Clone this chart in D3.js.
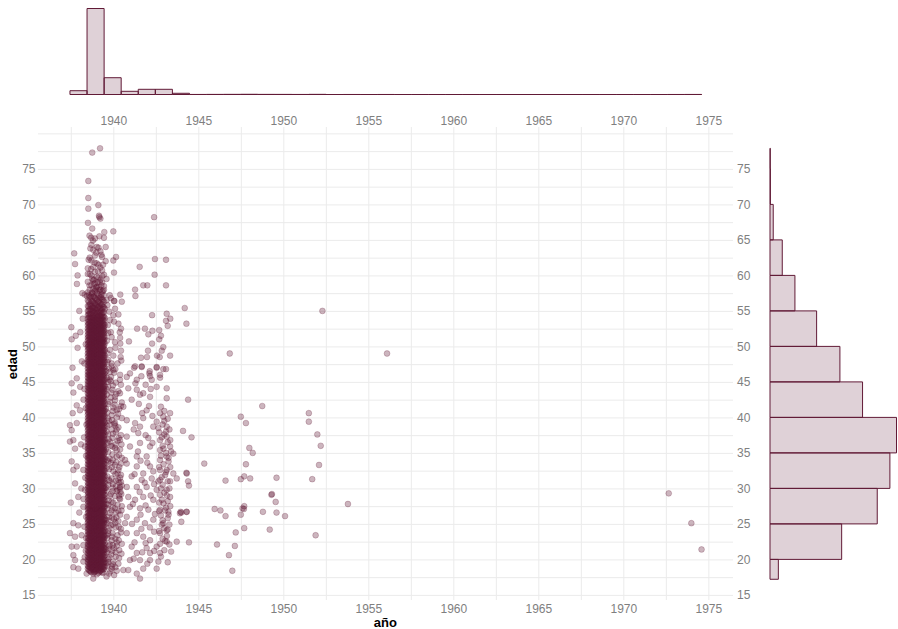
<!DOCTYPE html>
<html>
<head>
<meta charset="utf-8">
<script src="https://cdn.jsdelivr.net/npm/d3@7"></script>
<style>
  body { margin: 0; background: #fff; }
  svg text { font-family: "Liberation Sans", Arial, sans-serif; }
</style>
</head>
<body>
<svg id="chart" width="898" height="629"></svg>
<script>
// ---- datos ----
// núcleo denso (1938.5 - 1939.5): columnas de año y edades
const nucleoAnios = [1938.50, 1938.61, 1938.71, 1938.82, 1938.92, 1939.03, 1939.13, 1939.24, 1939.34, 1939.45,
                     1938.555, 1938.66, 1938.765, 1938.87, 1938.975, 1939.08, 1939.185, 1939.29, 1939.395, 1939.50];
const nucleoEdades = [
  [18.7,19.1,19.6,20.0,20.4,20.9,21.3,21.8,22.1,22.6,23.0,23.5,23.9,24.3,24.8,25.2,25.6,26.1,26.5,27.0,27.3,27.8,28.2,28.7,29.1,29.5,30.0,30.4,30.8,31.3,31.7,32.2,32.5,33.0,33.4,33.9,34.3,34.7,35.2,35.6,36.0,36.5,36.9,37.4,37.7,38.2,38.6,39.1,39.5,39.9,40.4,40.8,41.2,41.7,42.1,42.6,42.9,43.4,43.8,44.3,44.7,45.1,45.6,46.0,46.4,46.9,47.3,47.8,48.1,48.6,49.0,49.5,49.9,50.3,50.8,51.2,51.6,52.1,52.5,53.0,53.4,53.9,54.4,55.0,55.7,56.5,57.6,59.1,61.0],
  [18.4,18.9,19.3,19.8,20.2,20.6,21.1,21.5,22.0,22.4,22.8,23.3,23.7,24.1,24.6,25.0,25.5,25.9,26.3,26.8,27.2,27.6,28.1,28.5,29.0,29.3,29.8,30.2,30.7,31.1,31.5,32.0,32.4,32.8,33.3,33.7,34.2,34.5,35.0,35.4,35.9,36.3,36.7,37.2,37.6,38.0,38.5,38.9,39.3,39.8,40.2,40.7,41.0,41.5,41.9,42.4,42.8,43.2,43.7,44.1,44.5,45.0,45.4,45.9,46.2,46.7,47.1,47.6,48.0,48.4,48.9,49.3,49.7,50.2,50.6,51.1,51.4,51.9,52.3,52.8,53.2,53.6,54.1,54.6,55.2,55.9,56.8,58.0,60.2,62.5],
  [18.2,18.8,19.2,19.7,20.1,20.5,21.0,21.4,21.9,22.2,22.7,23.1,23.6,24.0,24.4,24.9,25.3,25.8,26.1,26.6,27.0,27.5,27.9,28.3,28.8,29.2,29.7,30.0,30.5,30.9,31.4,31.8,32.2,32.7,33.1,33.6,33.9,34.4,34.8,35.3,35.7,36.1,36.6,37.0,37.5,37.8,38.3,38.7,39.2,39.6,40.0,40.5,40.9,41.4,41.7,42.2,42.6,43.1,43.5,43.9,44.4,44.8,45.3,45.6,46.1,46.5,47.0,47.4,47.8,48.3,48.7,49.2,49.5,50.0,50.4,50.9,51.3,51.7,52.2,52.6,53.1,53.5,54.0,54.5,55.1,55.7,56.4,57.3,58.6,60.0,62.1,64.3],
  [18.0,18.5,19.0,19.4,19.9,20.3,20.7,21.2,21.6,22.1,22.5,22.9,23.4,23.8,24.2,24.7,25.1,25.6,26.0,26.4,26.9,27.3,27.8,28.1,28.6,29.0,29.5,29.9,30.3,30.8,31.2,31.6,32.1,32.5,33.0,33.4,33.8,34.3,34.7,35.1,35.6,36.0,36.5,36.9,37.3,37.8,38.2,38.6,39.1,39.5,40.0,40.4,40.8,41.3,41.7,42.1,42.6,43.0,43.5,43.9,44.3,44.8,45.2,45.6,46.1,46.5,47.0,47.4,47.8,48.3,48.7,49.1,49.6,50.0,50.5,50.9,51.3,51.8,52.2,52.6,53.1,53.5,54.0,54.4,55.0,55.5,56.2,57.0,58.1,59.3,61.2,63.6],
  [18.3,18.7,19.2,19.6,20.1,20.5,20.9,21.4,21.8,22.3,22.6,23.1,23.5,24.0,24.4,24.8,25.3,25.7,26.2,26.6,27.0,27.5,27.9,28.4,28.8,29.2,29.7,30.1,30.6,30.9,31.4,31.8,32.3,32.7,33.1,33.6,34.0,34.5,34.9,35.3,35.8,36.2,36.7,37.1,37.5,38.0,38.4,38.9,39.3,39.7,40.2,40.6,41.1,41.5,41.9,42.4,42.8,43.3,43.7,44.1,44.6,45.0,45.5,45.8,46.3,46.7,47.2,47.6,48.0,48.5,48.9,49.4,49.8,50.2,50.7,51.1,51.5,52.0,52.4,52.9,53.3,53.8,54.2,54.8,55.4,56.0,56.8,57.8,58.9,60.5,62.8,65.2],
  [17.9,18.6,19.1,19.5,19.9,20.4,20.8,21.3,21.7,22.2,22.6,23.0,23.5,23.9,24.3,24.8,25.2,25.7,26.1,26.5,27.0,27.4,27.9,28.3,28.7,29.2,29.6,30.0,30.5,30.9,31.3,31.8,32.2,32.7,33.0,33.5,33.9,34.4,34.8,35.2,35.7,36.1,36.6,37.0,37.4,37.9,38.3,38.8,39.2,39.6,40.1,40.5,40.9,41.4,41.8,42.3,42.7,43.2,43.6,44.0,44.5,44.9,45.3,45.8,46.2,46.6,47.1,47.5,48.0,48.4,48.8,49.3,49.7,50.1,50.6,51.0,51.5,51.9,52.3,52.8,53.2,53.7,54.1,54.6,55.2,55.8,56.6,57.5,58.4,59.8,61.7,64.0],
  [18.1,18.5,19.0,19.3,19.8,20.2,20.7,21.1,21.6,21.9,22.4,22.8,23.3,23.7,24.1,24.6,25.0,25.4,25.9,26.3,26.8,27.2,27.6,28.1,28.5,29.0,29.4,29.8,30.3,30.7,31.2,31.5,32.0,32.4,32.9,33.3,33.7,34.2,34.6,35.1,35.5,35.9,36.4,36.8,37.3,37.7,38.1,38.6,39.0,39.4,39.9,40.3,40.8,41.2,41.6,42.0,42.5,42.9,43.4,43.8,44.2,44.7,45.1,45.5,46.0,46.4,46.9,47.3,47.7,48.2,48.6,49.0,49.5,49.9,50.4,50.8,51.2,51.7,52.1,52.5,53.0,53.4,53.9,54.3,54.9,55.6,56.3,57.1,58.3,59.7,61.5,63.9],
  [18.4,18.9,19.4,19.8,20.2,20.7,21.1,21.5,22.0,22.4,22.9,23.3,23.7,24.2,24.6,25.1,25.4,25.9,26.3,26.8,27.2,27.7,28.0,28.5,28.9,29.4,29.8,30.2,30.7,31.1,31.6,32.0,32.4,32.9,33.3,33.7,34.1,34.6,35.0,35.5,35.9,36.3,36.8,37.2,37.6,38.1,38.5,39.0,39.4,39.8,40.3,40.7,41.1,41.6,42.0,42.5,42.8,43.3,43.7,44.2,44.6,45.0,45.5,45.9,46.3,46.8,47.2,47.7,48.1,48.5,49.0,49.4,49.8,50.3,50.7,51.2,51.6,52.0,52.5,52.9,53.3,53.8,54.3,54.8,55.4,56.1,56.9,58.0,59.4,61.1,63.4],
  [18.2,18.7,19.1,19.6,20.0,20.5,20.9,21.3,21.8,22.2,22.7,23.1,23.5,24.0,24.4,24.9,25.3,25.7,26.2,26.6,27.1,27.5,27.9,28.4,28.8,29.3,29.7,30.1,30.6,31.0,31.4,31.9,32.3,32.8,33.2,33.6,34.1,34.5,35.0,35.4,35.8,36.3,36.7,37.1,37.6,38.0,38.5,38.9,39.3,39.8,40.2,40.6,41.1,41.5,42.0,42.4,42.8,43.3,43.7,44.1,44.6,45.0,45.4,45.9,46.3,46.8,47.2,47.6,48.1,48.5,48.9,49.4,49.8,50.3,50.7,51.1,51.6,52.0,52.4,52.9,53.3,53.8,54.2,54.7,55.3,55.9,56.7,57.7,59.0,60.7,62.6],
  [18.6,19.0,19.5,20.0,20.4,20.8,21.3,21.7,22.1,22.6,23.0,23.4,23.9,24.3,24.8,25.2,25.6,26.1,26.5,26.9,27.4,27.8,28.3,28.7,29.1,29.6,30.0,30.4,30.9,31.3,31.8,32.2,32.6,33.1,33.5,33.9,34.4,34.8,35.3,35.7,36.1,36.6,37.0,37.4,37.9,38.3,38.8,39.2,39.6,40.1,40.5,40.9,41.4,41.8,42.3,42.7,43.1,43.6,44.0,44.4,44.9,45.3,45.8,46.2,46.6,47.1,47.5,48.0,48.4,48.8,49.3,49.7,50.1,50.6,51.0,51.4,51.9,52.3,52.8,53.2,53.7,54.2,54.8,55.5,56.3,57.2,58.5,60.1],
  [18.5,19.0,19.4,19.9,20.3,20.8,21.2,21.7,22.1,22.6,23.0,23.5,23.9,24.4,24.8,25.3,25.7,26.2,26.6,27.1,27.5,28.0,28.4,28.9,29.3,29.8,30.2,30.7,31.1,31.6,32.0,32.5,32.9,33.4,33.8,34.3,34.7,35.2,35.6,36.1,36.5,37.0,37.4,37.9,38.3,38.8,39.2,39.7,40.1,40.6,41.0,41.5,41.9,42.4,42.8,43.3,43.7,44.2,44.6,45.1,45.5,46.0,46.4,46.9,47.3,47.8,48.2,48.7,49.1,49.6,50.0,50.5,50.9,51.4,51.8,52.3,52.7,53.2,53.6,54.1,54.5,55.0,55.6,56.3,57.2],
  [18.3,18.8,19.3,19.6,20.1,20.6,20.9,21.4,21.9,22.3,22.7,23.2,23.6,24.1,24.5,25.0,25.3,25.8,26.3,26.7,27.1,27.6,28.0,28.4,28.9,29.4,29.7,30.2,30.6,31.1,31.5,32.0,32.3,32.8,33.2,33.7,34.1,34.6,35.0,35.4,35.9,36.4,36.8,37.2,37.6,38.1,38.6,39.0,39.4,39.9,40.3,40.7,41.2,41.6,42.1,42.5,42.9,43.4,43.9,44.3,44.7,45.2,45.6,46.0,46.5,47.0,47.3,47.8,48.2,48.7,49.1,49.6,50.0,50.4,50.9,51.3,51.8,52.2,52.7,53.0,53.5,54.0,54.6,55.3,56.0,57.0],
  [18.6,19.0,19.5,19.9,20.4,20.8,21.3,21.6,22.1,22.5,23.0,23.4,23.8,24.3,24.7,25.2,25.6,26.0,26.5,26.9,27.4,27.7,28.2,28.6,29.1,29.5,29.9,30.4,30.8,31.3,31.6,32.1,32.6,33.0,33.4,33.9,34.3,34.8,35.1,35.6,36.0,36.5,36.9,37.3,37.8,38.2,38.7,39.1,39.5,40.0,40.4,40.8,41.3,41.8,42.2,42.6,43.0,43.5,43.9,44.4,44.8,45.3,45.7,46.1,46.6,47.0,47.5,47.9,48.3,48.8,49.2,49.7,50.1,50.5,51.0,51.4,51.9,52.3,52.8,53.3,53.7,54.2,54.9,55.5,56.4,57.5,59.5],
  [18.2,18.6,19.1,19.6,20.0,20.4,20.9,21.3,21.8,22.2,22.6,23.1,23.5,24.0,24.3,24.8,25.2,25.7,26.1,26.5,27.0,27.4,27.9,28.3,28.7,29.2,29.6,30.1,30.5,30.9,31.4,31.8,32.3,32.6,33.1,33.5,34.0,34.4,34.8,35.3,35.7,36.2,36.6,37.0,37.5,37.9,38.4,38.7,39.2,39.6,40.1,40.5,40.9,41.4,41.8,42.3,42.7,43.1,43.6,44.0,44.5,44.8,45.3,45.7,46.2,46.6,47.0,47.5,47.9,48.4,48.8,49.2,49.7,50.1,50.6,50.9,51.4,51.8,52.3,52.7,53.1,53.6,54.0,54.7,55.3,56.1,57.0,58.8],
  [18.4,18.9,19.3,19.8,20.2,20.6,21.1,21.5,22.0,22.4,22.8,23.3,23.7,24.2,24.6,25.0,25.5,25.9,26.4,26.8,27.2,27.7,28.1,28.6,29.0,29.4,29.9,30.3,30.8,31.2,31.5,32.0,32.4,32.9,33.3,33.8,34.2,34.6,35.1,35.5,36.0,36.4,36.8,37.3,37.7,38.2,38.5,39.0,39.4,39.9,40.3,40.7,41.2,41.6,42.1,42.5,42.9,43.4,43.8,44.3,44.6,45.1,45.5,46.0,46.4,46.8,47.3,47.7,48.2,48.6,49.0,49.5,49.9,50.4,50.7,51.2,51.6,52.1,52.5,52.9,53.4,53.8,54.4,55.0,55.8,56.7,58.0],
  [18.7,19.2,19.5,20.0,20.5,20.9,21.3,21.8,22.2,22.7,23.1,23.5,24.0,24.4,24.9,25.3,25.7,26.2,26.6,27.1,27.5,27.9,28.4,28.8,29.1,29.6,30.0,30.5,30.9,31.3,31.8,32.2,32.7,33.1,33.5,34.0,34.4,34.9,35.2,35.7,36.1,36.6,37.0,37.4,37.9,38.3,38.8,39.2,39.6,40.1,40.5,41.0,41.3,41.8,42.2,42.7,43.1,43.5,44.0,44.4,44.9,45.3,45.7,46.2,46.6,47.1,47.4,47.9,48.3,48.8,49.2,49.6,50.1,50.5,51.0,51.4,51.8,52.2,52.7,53.1,53.6,54.1,54.7,55.4,56.2,57.4,59.0],
  [18.3,18.8,19.2,19.7,20.1,20.6,21.0,21.4,21.9,22.3,22.8,23.2,23.6,24.1,24.5,24.9,25.4,25.8,26.3,26.7,27.1,27.6,28.0,28.5,28.9,29.3,29.8,30.2,30.7,31.0,31.5,31.9,32.4,32.8,33.2,33.7,34.1,34.6,35.0,35.4,35.9,36.3,36.8,37.1,37.6,38.0,38.5,38.9,39.3,39.8,40.2,40.7,41.1,41.5,42.0,42.3,42.8,43.2,43.7,44.1,44.5,45.0,45.4,45.9,46.3,46.7,47.2,47.6,48.0,48.5,48.9,49.4,49.8,50.2,50.7,51.1,51.5,52.0,52.4,52.9,53.3,53.7,54.3,54.9,55.7,56.6,57.9],
  [18.5,18.9,19.4,19.8,20.3,20.7,21.2,21.6,22.0,22.5,22.9,23.4,23.8,24.2,24.7,25.1,25.5,26.0,26.4,26.9,27.3,27.7,28.2,28.6,29.1,29.5,29.9,30.4,30.8,31.2,31.7,32.1,32.5,33.0,33.4,33.9,34.3,34.7,35.2,35.6,36.1,36.5,36.9,37.4,37.8,38.2,38.7,39.1,39.6,40.0,40.4,40.9,41.3,41.8,42.2,42.6,43.1,43.5,43.9,44.4,44.8,45.3,45.7,46.1,46.6,47.0,47.4,47.9,48.3,48.8,49.2,49.6,50.1,50.5,51.0,51.3,51.8,52.2,52.6,53.1,53.5,54.0,54.5,55.1,55.9,56.9,58.6],
  [18.1,18.6,19.0,19.5,19.9,20.3,20.8,21.2,21.7,22.1,22.5,23.0,23.4,23.9,24.2,24.7,25.1,25.6,26.0,26.4,26.9,27.3,27.8,28.2,28.6,29.1,29.5,30.0,30.3,30.8,31.2,31.7,32.1,32.5,33.0,33.4,33.9,34.3,34.7,35.2,35.6,36.0,36.5,36.9,37.4,37.8,38.2,38.7,39.1,39.5,40.0,40.4,40.9,41.3,41.7,42.2,42.6,43.0,43.5,43.9,44.3,44.8,45.2,45.7,46.1,46.5,47.0,47.4,47.8,48.3,48.7,49.1,49.6,50.0,50.5,50.9,51.3,51.8,52.2,52.6,53.1,53.6,54.1,54.8,55.6,56.5,57.8],
  [18.9,19.7,20.6,21.5,22.3,23.2,24.0,24.9,25.7,26.6,27.4,28.3,29.1,30.0,30.8,31.7,32.5,33.4,34.2,35.1,35.9,36.8,37.6,38.5,39.3,40.2,41.0,41.9,42.7,43.6,44.4,45.3,46.1,47.0,47.8,48.7,49.5,50.4,51.2,52.1,53.0,54.0,55.3]
];

// puntos a la izquierda del núcleo [año, edad]
const izquierda = [
  [1937.55,44.8],[1937.65,43.5],[1937.85,41.7],[1937.61,40.6],[1938.04,41.0],[1937.45,38.9],[1937.55,38.2],[1937.85,39.2],
  [1937.45,36.6],[1937.65,36.8],[1937.75,35.6],[1937.85,33.1],[1937.65,32.6],[1938.24,32.6],[1937.75,30.7],[1938.33,29.8],
  [1937.94,28.8],[1938.24,27.4],[1937.65,25.1],[1937.94,24.8],[1937.45,23.7],[1937.75,23.2],[1938.14,23.4],[1937.55,21.8],
  [1937.85,21.8],[1938.24,22.0],[1937.65,20.6],[1937.75,19.9],[1938.24,19.7],[1937.65,18.9],[1937.94,18.7],[1938.43,18.0],
  [1938.82,17.3],[1937.53,52.7],[1937.55,51.0],[1937.79,51.5],[1938.06,52.0],[1938.20,53.9],[1937.90,49.8],[1938.32,57.3],
  [1938.45,57.1],[1937.70,63.1],[1937.75,61.6],[1937.90,60.0],[1937.86,58.8],[1938.18,57.5],[1937.85,45.5],[1938.30,44.0],
  [1938.38,41.3],[1938.28,37.2],[1938.40,34.6],[1938.35,31.5],[1938.40,26.0],[1938.30,24.6],[1938.38,21.2],[1938.30,47.6],
  [1938.38,50.3],[1938.25,42.5],[1938.42,39.0],[1938.33,35.9],[1938.25,28.5],[1938.40,23.0],[1938.32,20.3],[1938.10,36.2],
  [1938.05,44.3],[1938.12,30.0],[1938.00,26.6],[1937.50,28.0],[1937.60,47.0],[1938.15,47.9],[1938.00,55.0],[1937.55,33.8]
];

// parte alta del núcleo (edades > 57)
const superior = [
  [1938.76,77.3],[1939.22,77.9],[1938.53,73.3],[1938.53,70.9],[1938.53,69.4],[1939.12,69.9],[1939.16,68.4],[1939.24,68.0],
  [1939.18,68.2],[1938.51,67.4],[1938.76,66.6],[1939.47,66.1],[1940.00,66.2],[1938.60,65.6],[1938.70,65.3],[1938.80,64.9],
  [1939.18,65.5],[1939.45,65.3],[1938.65,63.8],[1939.00,63.2],[1939.30,62.9],[1938.55,62.2],[1938.90,61.8],[1939.40,61.5],
  [1938.70,60.9],[1939.10,60.6],[1938.50,60.2],[1939.35,59.9],[1938.85,59.4],[1939.20,59.1],[1938.60,58.6],[1939.00,58.3],
  [1939.45,58.0],[1938.75,57.6],[1939.30,57.3],[1939.55,62.0],[1939.60,59.5],[1939.60,56.5],[1939.55,64.0]
];

// franja 1939.6 - 1940.6
const franja = [
  [1939.79,57.2],[1939.86,56.8],[1940.06,56.4],[1940.10,55.3],[1939.76,54.9],[1940.00,54.4],[1940.30,54.5],[1939.80,53.7],
  [1940.04,53.5],[1940.30,53.2],[1940.45,52.5],[1939.85,52.0],[1940.38,52.0],[1939.90,51.3],[1940.40,51.2],[1940.10,50.6],
  [1940.41,50.4],[1940.12,49.8],[1939.80,49.5],[1940.45,49.4],[1940.00,48.7],[1940.43,48.5],[1939.70,48.1],[1939.90,47.6],
  [1940.47,48.0],[1940.12,46.8],[1939.80,46.4],[1939.86,45.7],[1939.65,55.8],[1939.68,53.0],[1939.62,50.8],[1939.70,51.9],
  [1939.66,49.0],[1940.16,62.6],[1940.00,62.1],[1940.04,60.4],[1940.41,57.3],[1940.04,56.4],[1940.50,56.3],
  [1939.65,47.8],[1939.90,47.2],[1940.25,47.6],[1939.75,46.9],[1940.05,46.3],[1940.40,46.0],[1939.62,45.6],[1939.85,45.1],
  [1940.15,44.9],[1940.45,44.6],[1939.70,44.3],[1939.95,43.9],[1940.30,43.7],[1939.62,43.2],[1939.85,42.8],[1940.10,42.4],
  [1940.50,42.1],[1939.70,41.9],[1940.00,41.4],[1940.35,41.2],[1939.65,40.7],[1939.90,40.3],[1940.20,40.0],[1940.50,39.9],
  [1939.75,39.5],[1940.05,39.1],[1939.62,38.8],[1940.30,38.6],[1939.90,38.3],[1940.15,37.9],[1939.70,37.6],[1940.45,37.5],
  [1939.95,37.1],[1940.25,36.7],[1939.65,36.4],[1939.85,36.0],[1940.10,35.7],[1940.40,35.5],[1939.70,35.1],[1939.95,34.8],
  [1940.20,34.5],[1940.50,34.3],[1939.62,34.0],[1939.85,33.6],[1940.10,33.3],[1940.35,33.0],[1939.75,32.7],[1940.00,32.4],
  [1940.25,32.1],[1940.45,31.9],[1939.65,31.7],[1939.90,31.4],[1940.15,31.1],[1940.35,30.8],[1940.50,30.4],[1939.70,30.5],
  [1939.95,30.1],[1940.25,29.8],[1940.42,29.5],[1939.62,29.7],[1939.85,29.2],[1940.10,28.9],[1940.35,28.6],[1939.72,28.3],
  [1940.00,28.0],[1940.25,27.7],[1940.50,27.5],[1939.65,27.2],[1939.90,26.9],[1940.15,26.6],[1940.40,26.3],[1939.75,26.0],
  [1940.05,25.7],[1940.30,25.4],[1939.62,25.1],[1939.85,24.8],[1940.15,24.5],[1940.45,24.3],[1939.70,24.0],[1939.95,23.7],
  [1940.25,23.4],[1939.65,23.0],[1939.90,22.7],[1940.20,22.4],[1940.50,22.2],[1939.75,21.9],[1940.05,21.6],[1940.35,21.3],
  [1939.62,21.0],[1939.88,20.7],[1940.15,20.4],[1939.70,20.0],[1940.00,19.7],[1940.30,19.4],[1939.65,19.1],[1939.90,18.7],
  [1940.20,18.4],[1939.75,18.0],[1940.05,17.8],[1939.60,17.6],[1940.40,31.5],[1940.45,30.9],[1940.38,30.0],[1940.47,29.2],
  [1940.40,28.5],[1940.00,46.7],[1940.39,45.3],[1940.39,43.4],[1940.10,42.9],[1940.20,41.0],[1940.59,41.5],[1940.10,39.2],
  [1940.39,36.8],[1940.20,35.4],[1940.29,31.2],[1940.39,30.2],[1940.59,18.5],
  [1939.58,46.5],[1939.60,44.0],[1939.57,41.2],[1939.60,38.0],[1939.57,35.5],[1939.60,32.9],[1939.57,30.1],[1939.60,27.8],
  [1939.57,25.6],[1939.60,23.4],[1939.57,21.4],[1939.60,19.5],[1939.78,45.3],[1939.80,42.2],[1939.78,39.0],[1939.80,36.6],
  [1939.78,34.2],[1939.80,31.0],[1939.78,28.9],[1939.80,26.5],[1939.78,24.4],[1939.80,22.1],[1939.78,20.3],[1939.98,44.5],
  [1939.97,40.9],[1939.98,37.7],[1939.97,34.0],[1939.98,30.6],[1939.97,27.3],[1939.98,24.9],[1939.97,22.0],[1939.98,19.3],
  [1940.18,43.3],[1940.20,38.3],[1940.18,33.7],[1940.20,29.6],[1940.18,25.9],[1940.20,21.9],
  [1939.68,45.0],[1939.88,43.5],[1940.08,41.8],[1940.28,40.5],[1939.68,39.9],[1939.92,39.6],[1940.12,38.8],[1940.32,37.1],
  [1939.72,36.9],[1939.94,35.9],[1940.14,36.2],[1940.34,34.7],[1939.70,33.8],[1939.92,33.0],[1940.12,32.0],[1940.30,32.6],
  [1939.74,31.2],[1939.96,29.6],[1940.16,30.3],[1940.34,29.0],[1939.70,27.7],[1939.90,28.1],[1940.10,27.2],[1940.30,26.8],
  [1939.72,25.5],[1939.92,25.9],[1940.12,25.2],[1940.32,24.6],[1939.70,23.6],[1939.92,23.2],[1940.12,22.9],[1940.32,22.7],
  [1939.72,21.4],[1939.94,21.2],[1940.14,21.0],[1940.34,20.2],[1939.70,19.6],[1939.92,19.0],[1940.12,18.9],[1939.82,18.3],
  [1940.45,41.6],[1940.48,36.2],[1940.45,33.5],[1940.48,26.9],[1940.45,23.8],[1940.48,20.8]
];

// grupo 1940.6 - 1944
const grupo = [
  [1941.55,61.2],[1942.45,62.3],[1943.10,62.2],[1942.43,60.1],[1941.76,58.6],[1942.00,58.6],[1943.10,58.6],[1941.28,58.0],
  [1941.30,57.1],[1942.40,68.2],[1942.28,54.4],[1943.14,54.6],[1943.35,53.9],[1943.10,53.6],[1943.20,52.9],[1941.40,52.5],
  [1941.86,52.5],[1942.06,51.7],[1942.30,52.2],[1942.70,52.3],[1942.80,51.5],[1942.70,51.0],[1940.92,50.7],[1942.28,50.4],
  [1942.94,49.9],[1942.85,49.4],[1942.73,48.5],[1942.57,48.7],[1943.34,48.7],[1941.63,48.4],[1941.98,48.5],[1942.04,49.4],
  [1941.67,47.1],[1941.22,47.0],[1942.14,46.5],[1942.55,47.1],[1943.10,46.8],[1941.65,45.8],[1942.16,45.8],[1942.75,45.6],
  [1941.28,47.2],[1941.67,47.2],[1942.12,46.2],[1942.55,47.0],[1942.94,46.8],[1942.75,46.0],[1942.26,45.3],[1941.38,45.3],
  [1940.79,45.7],[1940.98,46.2],[1940.88,44.1],[1941.38,43.9],[1941.76,43.4],[1942.55,44.3],[1943.14,44.1],[1943.14,42.7],
  [1942.16,42.9],[1941.08,42.5],[1941.57,43.2],[1941.96,41.0],[1942.75,40.6],[1943.34,40.6],[1941.76,39.9],[1942.55,39.4],
  [1943.14,38.7],[1941.28,39.2],[1940.79,39.6],[1941.57,38.7],[1942.94,40.1],[1942.35,38.7],[1940.79,37.3],[1941.47,37.8],
  [1942.06,37.1],[1942.75,36.8],[1943.14,37.3],[1943.34,35.9],[1942.75,35.4],[1942.16,35.9],[1941.57,36.4],[1940.98,35.9],
  [1941.38,34.5],[1941.96,34.5],[1942.75,34.0],[1943.14,34.5],[1943.53,34.9],[1940.69,34.0],[1940.79,33.5],[1941.38,33.1],
  [1941.76,32.1],[1942.16,33.1],[1942.75,32.6],[1943.14,32.6],[1943.53,32.1],[1941.08,31.7],[1941.67,31.2],[1942.26,31.4],
  [1942.75,31.2],[1943.34,31.0],[1944.32,32.1],[1940.79,30.2],[1941.38,30.2],[1941.96,30.2],[1942.55,29.8],[1943.14,29.8],
  [1943.73,31.4],[1940.88,28.8],[1941.28,28.4],[1941.76,28.8],[1942.35,28.4],[1942.85,28.4],[1943.34,28.8],[1940.98,27.4],
  [1941.57,27.2],[1942.06,27.0],[1942.75,27.0],[1943.24,26.7],[1943.92,26.5],[1944.32,26.7],[1940.79,26.0],[1941.38,25.6],
  [1941.86,25.1],[1942.35,25.6],[1942.94,25.1],[1943.14,24.1],[1940.69,25.1],[1940.79,23.7],[1941.38,23.7],[1941.76,23.2],
  [1942.16,22.7],[1942.75,23.7],[1943.14,22.5],[1943.73,22.5],[1941.08,21.8],[1941.96,21.6],[1942.55,21.8],[1941.38,20.9],
  [1942.16,20.9],[1942.75,20.9],[1940.98,19.9],[1941.57,19.9],[1942.16,19.9],[1941.76,18.7],[1942.65,19.7],[1942.55,18.7],
  [1940.88,18.5],[1941.38,18.0],[1941.57,17.3],[1943.96,26.7],[1943.40,21.1],
  [1942.80,41.5],[1943.00,40.9],[1943.20,39.8],[1942.90,39.0],[1943.30,38.3],[1943.00,37.6],[1942.70,37.9],[1943.20,36.5],
  [1942.90,36.0],[1943.40,35.2],[1943.10,35.0],[1942.80,34.6],[1943.25,33.8],[1942.95,33.4],[1943.35,33.0],[1943.05,31.9],
  [1942.85,31.6],[1943.20,31.0],[1942.90,30.5],[1943.30,30.0],[1943.00,29.4],[1942.75,29.1],[1943.20,28.2],[1942.95,27.9],
  [1943.35,27.5],[1943.05,26.9],[1942.80,26.2],[1943.20,25.8],[1942.90,25.5],[1943.30,24.9],[1943.00,24.4],[1942.70,24.0],
  [1943.15,23.3],[1942.90,22.9],[1943.30,22.1],[1943.00,21.3],[1942.80,20.4],[1943.20,19.6],
  [1942.65,38.5],[1943.10,38.0],[1942.85,37.2],[1943.25,34.3],[1942.70,33.0],[1943.10,32.3],[1942.80,30.0],[1943.15,29.0],
  [1942.70,28.0],[1943.10,27.3],[1942.85,24.9],[1943.20,24.2],[1942.75,22.2],[1943.05,22.6],[1942.95,35.6],[1943.35,36.8],
  [1942.65,31.0],[1943.25,26.3],[1942.70,26.8],[1943.00,39.5],
  [1941.30,44.8],[1941.90,44.6],[1942.20,44.0],[1941.50,41.9],[1942.10,41.6],[1941.70,40.6],[1942.30,40.2],[1941.20,38.3],
  [1941.90,37.5],[1942.30,36.4],[1941.45,35.2],[1942.00,33.6],[1941.60,33.9],[1942.35,32.4],[1941.25,32.0],[1941.85,30.8],
  [1942.40,30.6],[1941.55,29.5],[1942.20,29.0],[1941.15,27.8],[1941.90,27.6],[1942.45,26.4],[1941.60,26.3],[1941.10,25.0],
  [1942.15,24.5],[1941.65,24.3],[1942.40,23.9],[1941.25,22.4],[1941.90,22.3],[1942.40,21.2],[1941.70,21.0],[1941.20,20.1],
  [1942.00,19.4]
];

// puntos aislados (>= 1944)
const atipicos = [
  [1944.20,55.4],[1944.30,53.2],[1946.85,49.0],[1952.30,55.0],[1956.10,49.0],[1944.40,42.5],[1948.76,41.6],[1947.50,40.1],
  [1947.80,39.2],[1951.50,40.6],[1951.50,39.4],[1944.10,38.1],[1944.60,37.2],[1952.00,37.6],[1952.20,36.0],[1948.00,35.7],
  [1948.20,35.0],[1945.35,33.5],[1947.80,33.4],[1952.10,33.3],[1944.30,32.2],[1944.40,31.0],[1944.45,30.4],[1946.60,31.1],
  [1947.50,31.3],[1947.70,31.7],[1948.05,31.4],[1949.60,31.5],[1951.70,31.3],[1949.30,29.1],[1949.33,29.2],[1949.55,28.1],
  [1953.80,27.8],[1944.00,26.6],[1944.30,26.7],[1945.96,27.1],[1946.30,26.9],[1946.60,26.1],[1947.60,27.2],[1947.70,27.5],
  [1947.68,27.1],[1947.50,26.3],[1948.80,26.7],[1949.60,26.6],[1950.10,26.1],[1944.00,25.3],[1947.70,24.4],[1949.20,24.2],
  [1947.20,23.8],[1951.90,23.4],[1944.45,22.4],[1946.10,22.1],[1947.15,21.9],[1946.80,20.6],[1947.00,18.4],[1972.67,29.3],
  [1974.00,25.1],[1974.60,21.4]
];

// histograma superior (año): 37 clases entre 1937.45 y 1974.61
const anioInicio = 1937.45;
const anioFin = 1974.61;
const conteoAnio = [157,3560,695,132,215,215,50,2,4,6,9,5,4,2,6,0,1,0,1,0,0,0,0,0,0,0,0,0,0,0,0,0,0,0,0,1,2];

// histograma derecho (edad)
const cortesEdad = [17.2,20,25,30,35,40,45,50,55,60,65,70,75,77.9];
const conteoEdad = [62,532,796,890,939,687,519,346,185,91,24,3,2];

// ejes
const ticksX = [1940,1945,1950,1955,1960,1965,1970,1975];
const menoresX = [1937.5,1942.5,1947.5,1952.5,1957.5,1962.5,1967.5,1972.5];
const ticksY = [15,20,25,30,35,40,45,50,55,60,65,70,75];
const gridY = [15,20,25,30,35,40,45,50,55,60,65,70,75,80];
const menoresY = [17.5,22.5,27.5,32.5,37.5,42.5,47.5,52.5,57.5,62.5,67.5,72.5,77.5];

// ---- dibujo ----
const COLOR = '#611a36';
const GRIS = '#7f7f7f';
const svg = d3.select('#chart');

const x = d3.scaleLinear().domain([1935.57, 1976.45]).range([38, 733]);
const y = d3.scaleLinear().domain([14.0, 80.9]).range([602, 127]);

// rejilla
function rejillaV(vals) {
  svg.append('g')
    .attr('transform', 'translate(0,600)')
    .call(d3.axisBottom(x).tickValues(vals).tickSize(-473).tickFormat(''))
    .call(g => g.select('.domain').remove())
    .selectAll('line').attr('stroke', '#ebebeb').attr('stroke-width', 1);
}
function rejillaH(vals) {
  svg.append('g')
    .attr('transform', 'translate(38,0)')
    .call(d3.axisLeft(y).tickValues(vals).tickSize(-695).tickFormat(''))
    .call(g => g.select('.domain').remove())
    .selectAll('line').attr('stroke', '#ebebeb').attr('stroke-width', 1);
}
rejillaV(menoresX);
rejillaV(ticksX);
rejillaH(menoresY);
rejillaH(gridY);

// etiquetas de ejes
function etiquetas(g) {
  g.select('.domain').remove();
  g.selectAll('text').attr('fill', GRIS).attr('font-size', 12)
    .attr('font-family', '"Liberation Sans", Arial, sans-serif');
}
svg.append('g').attr('transform', 'translate(0,602)')
  .call(d3.axisBottom(x).tickValues(ticksX).tickSize(0).tickPadding(2).tickFormat(d3.format('d')))
  .call(etiquetas);
svg.append('g').attr('transform', 'translate(0,114)')
  .call(d3.axisBottom(x).tickValues(ticksX).tickSize(0).tickPadding(2).tickFormat(d3.format('d')))
  .call(etiquetas);
svg.append('g').attr('transform', 'translate(38,0)')
  .call(d3.axisLeft(y).tickValues(ticksY).tickSize(0).tickPadding(2.5))
  .call(etiquetas);
svg.append('g').attr('transform', 'translate(733,0)')
  .call(d3.axisRight(y).tickValues(ticksY).tickSize(0).tickPadding(4))
  .call(etiquetas);

// títulos
svg.append('text').attr('x', x(1956)).attr('y', 627)
  .attr('text-anchor', 'middle').attr('font-size', 13).attr('font-weight', 'bold')
  .attr('fill', '#000').text('año');
svg.append('text').attr('transform', `translate(17,${y(47.5)}) rotate(-90)`)
  .attr('text-anchor', 'middle').attr('font-size', 13).attr('font-weight', 'bold')
  .attr('fill', '#000').text('edad');

// puntos
const puntos = [
  ...nucleoAnios.flatMap((a, i) => nucleoEdades[i].map(e => [a, e])),
  ...izquierda, ...superior, ...franja, ...grupo, ...atipicos
];
svg.append('g').selectAll('circle').data(puntos).join('circle')
  .attr('cx', d => x(d[0]))
  .attr('cy', d => y(d[1]))
  .attr('r', 2.9)
  .attr('fill', COLOR).attr('fill-opacity', 0.32)
  .attr('stroke', COLOR).attr('stroke-opacity', 0.35).attr('stroke-width', 0.7);

// histograma superior
const anchoAnio = (anioFin - anioInicio) / conteoAnio.length;
const binsAnio = conteoAnio.map((c, i) => ({ x0: anioInicio + i * anchoAnio, x1: anioInicio + (i + 1) * anchoAnio, c }));
const yTop = d3.scaleLinear().domain([0, d3.max(conteoAnio)]).range([94.5, 8.5]);
svg.append('g').selectAll('path').data(binsAnio).join('path')
  .attr('d', b => `M${x(b.x0)},${yTop(0)}V${yTop(b.c)}H${x(b.x1)}V${yTop(0)}Z`)
  .attr('fill', COLOR).attr('fill-opacity', 0.2)
  .attr('stroke', COLOR).attr('stroke-width', 1);

// histograma derecho
const binsEdad = conteoEdad.map((c, i) => ({ y0: cortesEdad[i], y1: cortesEdad[i + 1], c }));
const xDer = d3.scaleLinear().domain([0, d3.max(conteoEdad)]).range([770, 896.5]);
svg.append('g').selectAll('path').data(binsEdad).join('path')
  .attr('d', b => `M${xDer(0)},${y(b.y0)}H${xDer(b.c)}V${y(b.y1)}H${xDer(0)}Z`)
  .attr('fill', COLOR).attr('fill-opacity', 0.2)
  .attr('stroke', COLOR).attr('stroke-width', 1);
</script>
</body>
</html>
